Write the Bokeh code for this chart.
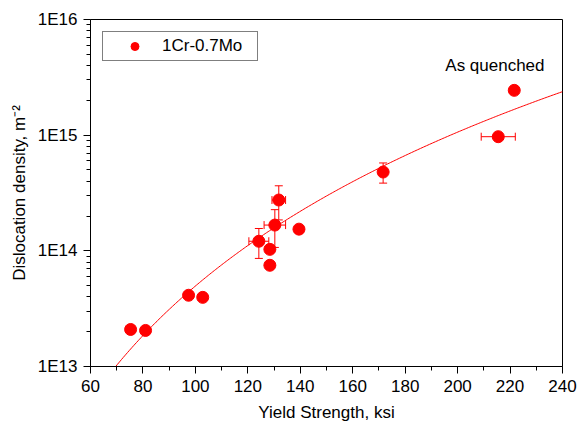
import numpy as np
from bokeh.plotting import figure
from bokeh.models import (ColumnDataSource, FixedTicker, Whisker, TeeHead, Label,
                          Legend, LegendItem, Range1d)
from bokeh.embed import file_html
from bokeh.resources import INLINE

# ---- data ----
strength = [75.3, 81.0, 97.4, 102.8, 124.2, 128.4, 128.4, 130.3, 131.8, 139.5, 171.6, 215.5, 221.6]
density = [2.09e13, 2.05e13, 4.13e13, 3.96e13, 1.21e14, 1.03e14, 7.5e13, 1.67e14, 2.75e14,
           1.54e14, 4.8e14, 9.7e14, 2.44e15]

# vertical error bars
yerr_x = [124.2, 130.3, 131.8, 171.6]
yerr_y = [1.21e14, 1.67e14, 2.75e14, 4.8e14]
yerr_d = [0.35e14, 0.6e14, 0.9e14, 0.95e14]

# horizontal error bars
xerr_x = [124.2, 130.3, 131.8, 215.5]
xerr_y = [1.21e14, 1.67e14, 2.75e14, 9.7e14]
xerr_d = [3.8, 4.1, 2.6, 6.5]

# power-law fit  rho = A * (sigma / s0) ** n
fit_A = 1e13
fit_s0 = 69.6
fit_n = 4.42

x_ticks = [60, 80, 100, 120, 140, 160, 180, 200, 220, 240]
y_ticks = [1e13, 1e14, 1e15, 1e16]
y_tick_labels = {1e13: "1E13", 1e14: "1E14", 1e15: "1E15", 1e16: "1E16"}

FONT = "Liberation Sans"
RED = "#ff0000"

p = figure(width=578, height=425, x_range=Range1d(60, 240), y_range=Range1d(1e13, 1e16),
           y_axis_type="log", output_backend="svg", toolbar_location=None, title=None,
           min_border_left=90, min_border_right=16, min_border_top=19, min_border_bottom=59)
p.xgrid.visible = False
p.ygrid.visible = False
p.outline_line_color = "black"
p.outline_line_width = 1
p.background_fill_color = "white"
p.border_fill_color = "white"

# fit curve
xf = np.linspace(fit_s0, 240, 300)
yf = fit_A * (xf / fit_s0) ** fit_n
p.line(xf, yf, line_color=RED, line_width=1)

# error bars
src_v = ColumnDataSource(dict(base=yerr_x, lower=[a - b for a, b in zip(yerr_y, yerr_d)],
                              upper=[a + b for a, b in zip(yerr_y, yerr_d)]))
wv = Whisker(source=src_v, base="base", lower="lower", upper="upper", dimension="height",
             line_color=RED, line_width=1,
             upper_head=TeeHead(size=8, line_color=RED, line_width=1),
             lower_head=TeeHead(size=8, line_color=RED, line_width=1))
p.add_layout(wv)
src_h = ColumnDataSource(dict(base=xerr_y, lower=[a - b for a, b in zip(xerr_x, xerr_d)],
                              upper=[a + b for a, b in zip(xerr_x, xerr_d)]))
wh = Whisker(source=src_h, base="base", lower="lower", upper="upper", dimension="width",
             line_color=RED, line_width=1,
             upper_head=TeeHead(size=8, line_color=RED, line_width=1),
             lower_head=TeeHead(size=8, line_color=RED, line_width=1))
p.add_layout(wh)

pts = p.scatter(strength, density, size=12, fill_color=RED, line_color=RED)

# legend
legend = Legend(items=[LegendItem(label="1Cr-0.7Mo", renderers=[pts])],
                location="top_left", margin=12, padding=4, glyph_width=55, glyph_height=20,
                label_standoff=0, label_width=91, label_height=20,
                label_text_font=FONT, label_text_font_size="17px", label_text_color="black",
                border_line_color="black", border_line_width=1, background_fill_alpha=1)
p.add_layout(legend)

p.add_layout(Label(x=195.3, y=4.0e15, text="As quenched", text_font=FONT,
                   text_font_size="17px", text_baseline="middle", text_color="black",
                   text_font_style="normal"))

# axes
xa = p.xaxis[0]
xa.ticker = FixedTicker(ticks=x_ticks, minor_ticks=list(range(70, 240, 20)))
xa.axis_label = "Yield Strength, ksi"
ya = p.yaxis[0]
ya.ticker = FixedTicker(ticks=y_ticks,
                        minor_ticks=[k * 10.0 ** e for e in (13, 14, 15) for k in range(2, 10)])
ya.major_label_overrides = y_tick_labels
ya.axis_label = "Dislocation density, m\u207b\u00b2"

for ax in (xa, ya):
    ax.axis_label_text_font = FONT
    ax.axis_label_text_font_size = "17px"
    ax.axis_label_text_font_style = "normal"
    ax.axis_label_text_color = "black"
    ax.major_label_text_font = FONT
    ax.major_label_text_font_size = "17px"
    ax.major_label_text_color = "black"
    ax.major_tick_in = 0
    ax.major_tick_out = 7
    ax.minor_tick_in = 0
    ax.minor_tick_out = 4
    ax.axis_line_color = "black"
    ax.major_tick_line_color = "black"
    ax.minor_tick_line_color = "black"
xa.major_label_standoff = 6
xa.axis_label_standoff = 8
ya.major_label_standoff = 6
ya.axis_label_standoff = 6

open("out.html", "w").write(file_html(p, INLINE))
